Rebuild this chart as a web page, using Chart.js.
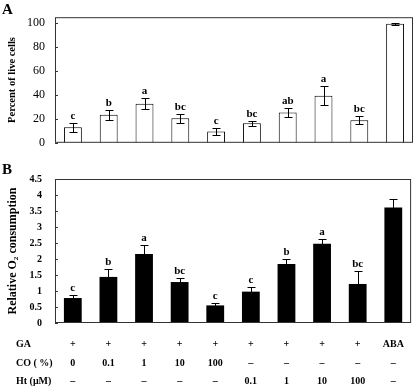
<!DOCTYPE html>
<html>
<head>
<meta charset="utf-8">
<script src="https://cdn.jsdelivr.net/npm/chart.js@4"></script>
<style>
  html, body { margin: 0; padding: 0; background: #fff; }
  #wrap { position: relative; width: 416px; height: 388px; }
  #chartA { position: absolute; left: 0; top: 0; }
  #chartB { position: absolute; left: 0; top: 160px; }
</style>
</head>
<body>
<div id="wrap">
  <canvas id="chartA" width="416" height="160"></canvas>
  <canvas id="chartB" width="416" height="228"></canvas>
</div>
<script>
// ===== data =====
const categories = ['1', '2', '3', '4', '5', '6', '7', '8', '9', '10'];
const gaRow = ['+', '+', '+', '+', '+', '+', '+', '+', '+', 'ABA'];
const coRow = ['0', '0.1', '1', '10', '100', '–', '–', '–', '–', '–'];
const htRow = ['–', '–', '–', '–', '–', '0.1', '1', '10', '100', '–'];
const rowHeaders = ['GA', 'CO ( %)', 'Ht (μM)'];

const liveCells = [13, 23.4, 32.6, 20.5, 9.4, 16.3, 25.3, 39.3, 18.8, 99.5];
const liveCellsErr = [3.7, 4, 4.6, 3.6, 3.1, 2.3, 3.4, 7.9, 3.3, 0.8];
const liveCellsLetters = ['c', 'b', 'a', 'bc', 'c', 'bc', 'ab', 'a', 'bc', ''];
const liveTicks = [0, 20, 40, 60, 80, 100];

const o2Use = [0.78, 1.44, 2.16, 1.28, 0.55, 0.98, 1.84, 2.48, 1.22, 3.61];
const o2UseErr = [0.08, 0.26, 0.27, 0.13, 0.09, 0.15, 0.15, 0.15, 0.39, 0.27];
const o2UseLetters = ['c', 'b', 'a', 'bc', 'c', 'c', 'b', 'a', 'bc', ''];

const SERIF = '"Liberation Serif", "DejaVu Serif", serif';
const TICK_PAD = 12;
const LINE_H = 18.7;

// ===== plugins =====
function panelPlugin(letter, errs, letters) {
  return {
    id: 'panel' + letter,
    afterDatasetsDraw(chart) {
      let ctx = chart.ctx;
      let area = chart.chartArea;
      let yScale = chart.scales.y;
      let meta = chart.getDatasetMeta(0);
      let values = chart.data.datasets[0].data;

      ctx.save();
      // frame
      ctx.strokeStyle = '#333';
      ctx.lineWidth = 1;
      ctx.strokeRect(area.left + 0.5, area.top + 0.5, area.right - area.left - 1, area.bottom - area.top - 1);

      // small inward ticks on y axis
      ctx.beginPath();
      yScale.ticks.forEach(t => {
        let y = Math.round(yScale.getPixelForValue(t.value)) + 0.5;
        ctx.moveTo(area.left, y);
        ctx.lineTo(area.left + 3, y);
      });
      ctx.stroke();

      // error bars + letters
      ctx.strokeStyle = '#000';
      ctx.fillStyle = '#000';
      ctx.font = 'bold 11px ' + SERIF;
      ctx.textAlign = 'center';
      ctx.textBaseline = 'alphabetic';
      meta.data.forEach((bar, i) => {
        let yHi = Math.round(yScale.getPixelForValue(values[i] + errs[i])) + 0.5;
        let yLo = Math.round(yScale.getPixelForValue(values[i] - errs[i])) + 0.5;
        let x = Math.round(bar.x) + 0.5;
        ctx.beginPath();
        ctx.moveTo(x, yHi); ctx.lineTo(x, yLo);
        ctx.moveTo(x - 4, yHi); ctx.lineTo(x + 4, yHi);
        ctx.moveTo(x - 4, yLo); ctx.lineTo(x + 4, yLo);
        ctx.stroke();
        if (letters[i]) ctx.fillText(letters[i], bar.x, yHi - 5);
      });

      // panel letter
      ctx.font = 'bold 15px ' + SERIF;
      ctx.textAlign = 'left';
      ctx.fillText(letter, 2, 14);
      ctx.restore();
    }
  };
}

const rowHeaderPlugin = {
  id: 'rowHeaders',
  afterDraw(chart) {
    let ctx = chart.ctx;
    let xScale = chart.scales.x;
    ctx.save();
    ctx.fillStyle = '#000';
    ctx.font = 'bold 10px ' + SERIF;
    ctx.textAlign = 'left';
    ctx.textBaseline = 'middle';
    rowHeaders.forEach((h, i) => {
      ctx.fillText(h, 16, xScale.top + TICK_PAD + LINE_H / 2 + i * LINE_H);
    });
    ctx.restore();
  }
};

// ===== chart A =====
new Chart(document.getElementById('chartA').getContext('2d'), {
  type: 'bar',
  data: {
    labels: categories,
    datasets: [{
      data: liveCells,
      backgroundColor: '#fff',
      borderColor: '#000',
      borderWidth: 1,
      barPercentage: 0.5,
      categoryPercentage: 1
    }]
  },
  options: {
    responsive: false,
    animation: false,
    layout: { padding: { top: 2, right: 3, bottom: 7, left: 0 } },
    plugins: { legend: { display: false }, tooltip: { enabled: false } },
    scales: {
      x: { display: false },
      y: {
        min: 0, max: 105,
        afterBuildTicks: scale => { scale.ticks = liveTicks.map(v => ({ value: v })); },
        afterFit: scale => { scale.width = 55; },
        grid: { display: false, drawTicks: false },
        border: { display: false },
        ticks: { color: '#000', padding: 10, font: { family: SERIF, size: 12 } },
        title: {
          display: true,
          text: 'Percent of live cells',
          color: '#000',
          padding: { top: 6, bottom: 0 },
          font: { family: SERIF, size: 10.5, weight: 'bold' }
        }
      }
    }
  },
  plugins: [panelPlugin('A', liveCellsErr, liveCellsLetters)]
});

// ===== chart B =====
new Chart(document.getElementById('chartB').getContext('2d'), {
  type: 'bar',
  data: {
    labels: categories.map((c, i) => [gaRow[i], coRow[i], htRow[i]]),
    datasets: [{
      data: o2Use,
      backgroundColor: '#000',
      borderColor: '#000',
      borderWidth: 0,
      barPercentage: 0.5,
      categoryPercentage: 1
    }]
  },
  options: {
    responsive: false,
    animation: false,
    layout: { padding: { top: 8, right: 3, bottom: 0, left: 0 } },
    plugins: { legend: { display: false }, tooltip: { enabled: false } },
    scales: {
      x: {
        afterFit: scale => { scale.height = 65; },
        grid: { display: false, drawTicks: false },
        border: { display: false },
        ticks: {
          color: '#000', padding: TICK_PAD, autoSkip: false, maxRotation: 0,
          font: { family: SERIF, size: 10, weight: 'bold', lineHeight: LINE_H / 10 }
        }
      },
      y: {
        min: 0, max: 4.5,
        ticks: {
          stepSize: 0.5, color: '#000', padding: 13,
          callback: v => String(v),
          font: { family: SERIF, size: 10, weight: 'bold' }
        },
        afterFit: scale => { scale.width = 55; },
        grid: { display: false, drawTicks: false },
        border: { display: false },
        title: {
          display: true,
          text: 'Relative O₂ consumption',
          color: '#000',
          padding: { top: 6, bottom: 0 },
          font: { family: SERIF, size: 12, weight: 'bold' }
        }
      }
    }
  },
  plugins: [panelPlugin('B', o2UseErr, o2UseLetters), rowHeaderPlugin]
});
</script>
</body>
</html>
